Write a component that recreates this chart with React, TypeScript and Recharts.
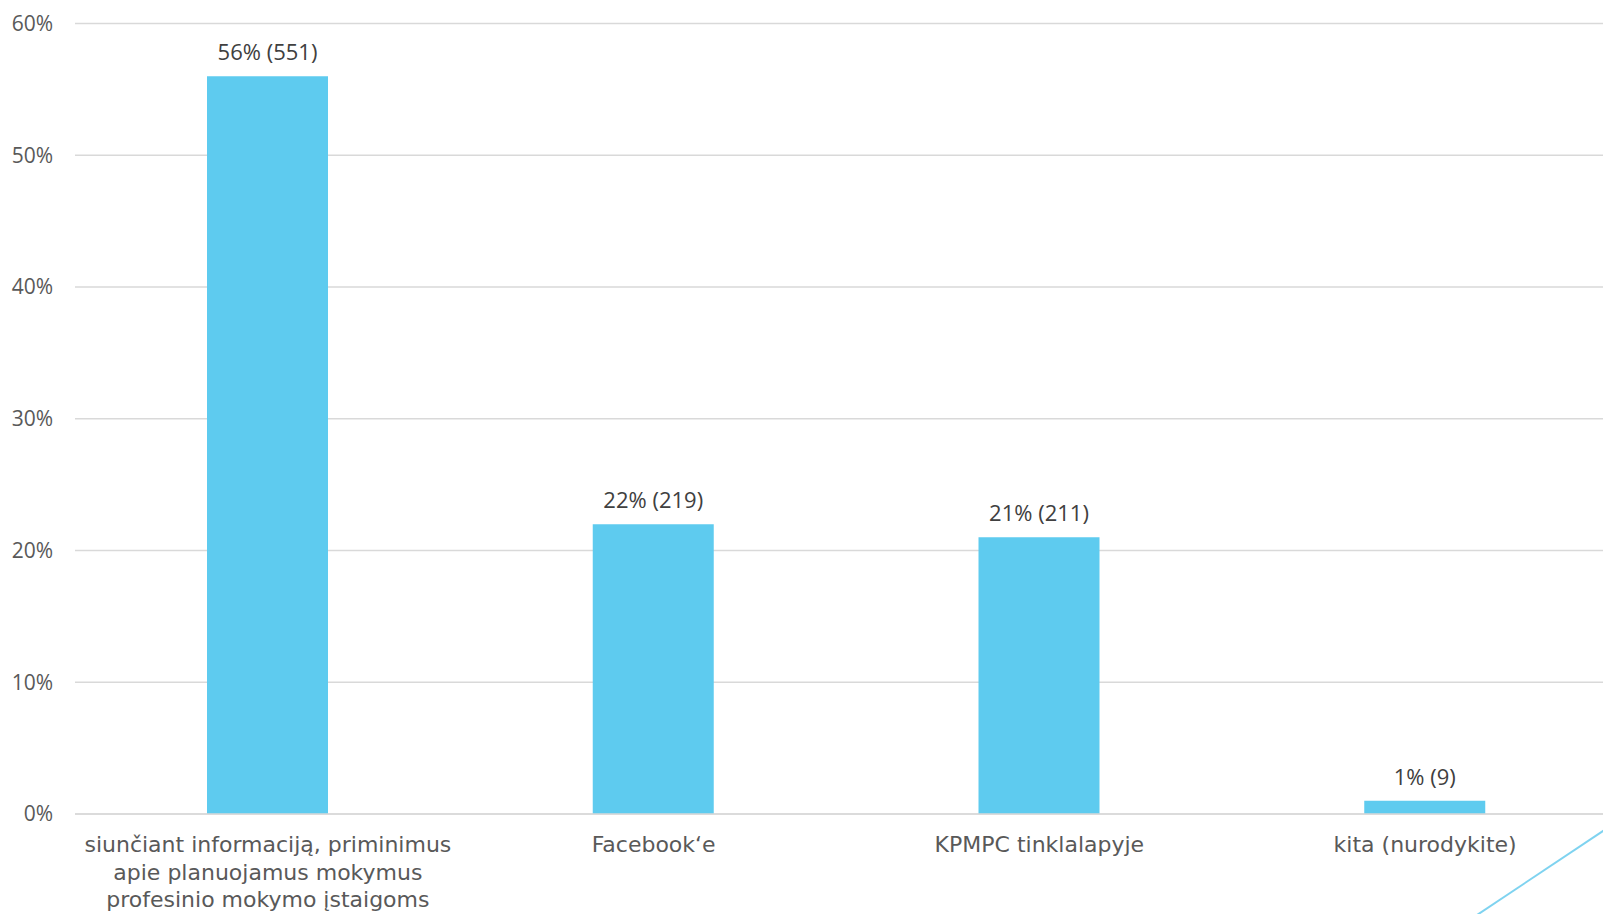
import { BarChart, Bar, XAxis, YAxis, CartesianGrid, LabelList } from 'recharts';

const categories = [
  'siunčiant informaciją, priminimus\napie planuojamus mokymus\nprofesinio mokymo įstaigoms',
  'Facebook‘e',
  'KPMPC tinklalapyje',
  'kita (nurodykite)',
];
const percents = [56, 22, 21, 1];
const counts = [551, 219, 211, 9];
const yTicks = [0, 10, 20, 30, 40, 50, 60];

const data = categories.map((name, i) => ({
  name,
  value: percents[i],
  label: `${percents[i]}% (${counts[i]})`,
}));

function CategoryTick(props: any) {
  const { x, y, payload } = props;
  const lines = String(payload.value).split('\n');
  return (
    <text
      x={x}
      y={y}
      textAnchor="middle"
      fill="#595959"
      fontFamily="'DejaVu Sans', sans-serif"
      fontSize={22}
    >
      {lines.map((line, i) => (
        <tspan key={i} x={x} dy={i === 0 ? 38 : 27.5}>
          {line}
        </tspan>
      ))}
    </text>
  );
}

export default function App() {
  return (
    <div
      style={{
        position: 'absolute',
        left: 0,
        top: 0,
        width: 1603,
        height: 914,
        overflow: 'hidden',
        background: '#fff',
      }}
    >
      <BarChart
        width={1640}
        height={914}
        data={data}
        margin={{ top: 23.5, right: 22, left: 0, bottom: 0 }}
      >
        <CartesianGrid vertical={false} stroke="#d9d9d9" strokeWidth={1.5} />
        <XAxis
          dataKey="name"
          height={100}
          interval={0}
          axisLine={{ stroke: '#d9d9d9', strokeWidth: 1.5 }}
          tickLine={false}
          tickSize={0}
          tickMargin={0}
          tick={<CategoryTick />}
        />
        <YAxis
          width={75}
          domain={[0, 60]}
          ticks={yTicks}
          axisLine={false}
          tickLine={false}
          tickMargin={22}
          tickSize={0}
          tickFormatter={(v) => `${v}%`}
          tick={{ fill: '#595959', fontSize: 21, fontFamily: "'Open Sans', sans-serif" }}
        />
        <Bar dataKey="value" fill="#5ecbef" barSize={121} isAnimationActive={false}>
          <LabelList
            dataKey="label"
            position="top"
            offset={16}
            fill="#404040"
            fontSize={22}
            fontFamily="'Open Sans', sans-serif"
          />
        </Bar>
      </BarChart>
      <svg
        width={1603}
        height={914}
        style={{ position: 'absolute', left: 0, top: 0, pointerEvents: 'none' }}
      >
        <line x1={1450} y1={933} x2={1615} y2={823} stroke="#7fd3f0" strokeWidth={2} />
      </svg>
    </div>
  );
}
